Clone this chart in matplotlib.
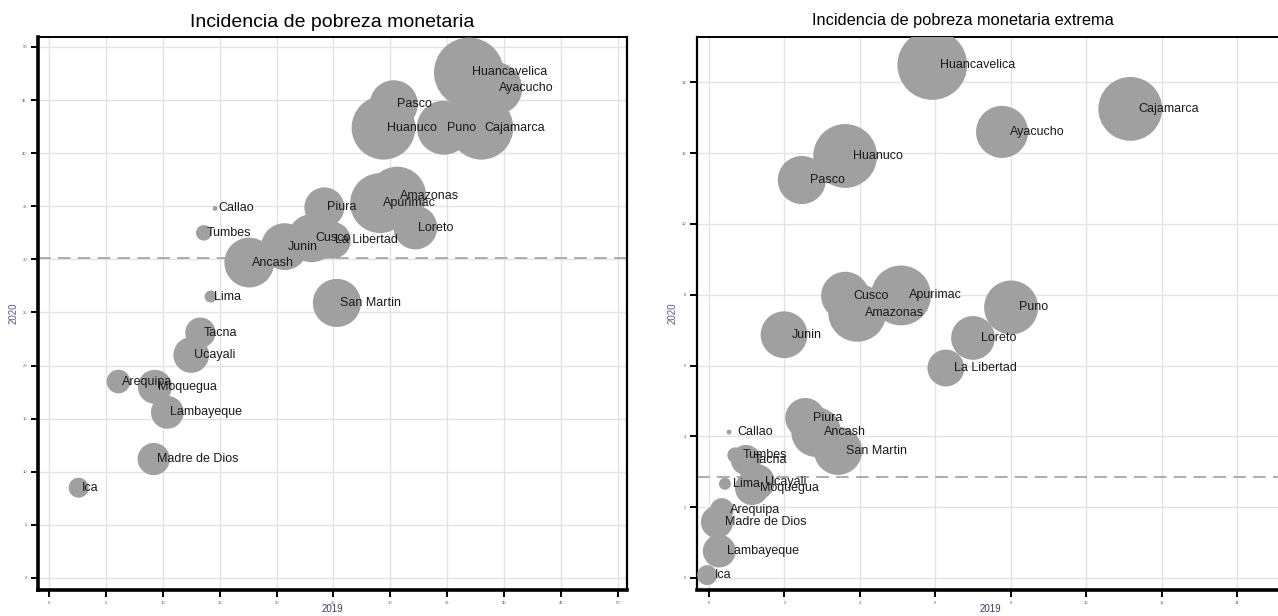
import numpy as np
import matplotlib.pyplot as plt

plt.rcParams['font.family'] = ['Liberation Sans', 'DejaVu Sans']

#-------------------------------------------------------------------------------
# regiones y tasas (2019 en x, 2020 en y)

regiones = ["Huancavelica", "Ayacucho", "Pasco", "Huanuco", "Puno", "Cajamarca",
            "Amazonas", "Apurimac", "Piura", "Loreto", "La Libertad", "Cusco",
            "Junin", "Ancash", "San Martin", "Lima", "Callao", "Tumbes", "Tacna",
            "Ucayali", "Arequipa", "Moquegua", "Lambayeque", "Madre de Dios", "Ica"]

pobreza_2019 = [36.9, 39.3, 30.3, 29.4, 34.7, 38.0,
                30.6, 29.1, 24.2, 32.2, 24.9, 23.1,
                20.7, 17.6, 25.3, 14.2, 14.6, 13.6, 13.3,
                12.5, 6.1, 9.3, 10.4, 9.2, 2.6]
pobreza_2020 = [47.6, 46.1, 44.6, 42.4, 42.4, 42.4,
                36.0, 35.3, 34.9, 33.0, 31.8, 32.0,
                31.2, 29.7, 25.9, 26.5, 34.8, 32.5, 23.1,
                21.0, 18.5, 18.0, 15.6, 11.2, 8.5]

extrema_2019 = [5.92, 7.77, 2.46, 3.61, 8.01, 11.17,
                3.93, 5.09, 2.55, 7.00, 6.28, 3.61,
                1.99, 2.84, 3.42, 0.42, 0.53, 0.69, 0.98,
                1.27, 0.34, 1.14, 0.27, 0.21, -0.05]
extrema_2020 = [14.49, 12.60, 11.24, 11.92, 7.64, 13.25,
                7.49, 7.98, 4.52, 6.78, 5.93, 7.97,
                6.87, 4.12, 3.59, 2.66, 4.12, 3.47, 3.33,
                2.71, 1.92, 2.54, 0.76, 1.58, 0.08]

# peso relativo de cada burbuja
peso = [12.2, 6.8, 5.8, 10.2, 7.3, 10.2,
        8.4, 9.0, 4.0, 4.8, 3.4, 5.8,
        5.5, 6.2, 5.8, 0.36, 0.06, 0.6, 2.3,
        3.2, 1.4, 2.9, 2.7, 2.6, 1.0]

promedio_pobreza = 30.1
promedio_extrema = 2.85

#-------------------------------------------------------------------------------

W, H = 1278, 616
fig = plt.figure(figsize=(W / 100, H / 100), dpi=100)

def px_box(x0, y0, x1, y1):
    return [x0 / W, 1 - y1 / H, (x1 - x0) / W, (y1 - y0) / H]

def burbujas(ax, xs, ys, xlim, ylim, ticks, hline, dx):
    s = np.array(peso) * 207.0
    ax.scatter(xs, ys, s=s, color="#a0a0a0", edgecolors="none", zorder=3)
    for name, x, y in zip(regiones, xs, ys):
        ax.annotate(name, (x, y), xytext=(dx, 0), textcoords="offset points",
                    ha="left", va="center", fontsize=9, color="#1a1a1a", zorder=4)
    ax.axhline(hline, color="#a6a6a6", lw=1.3, ls=(0, (7, 4)), zorder=2)
    ax.set_xlim(*xlim)
    ax.set_ylim(*ylim)
    ax.set_xticks(ticks)
    ax.set_yticks(ticks)
    ax.grid(True, color="#e3e3e3", lw=1.0, zorder=0)
    ax.set_axisbelow(True)
    ax.tick_params(length=5, width=1.4, color="black", labelsize=3,
                   labelcolor="#5a5a7a", pad=3)
    ax.set_xlabel("2019", fontsize=7, color="#3c3c64", labelpad=0)
    ax.set_ylabel("2020", fontsize=7, color="#5a5a8a", labelpad=1)
    ax.xaxis.set_label_coords(0.5, -0.025)

ax1 = fig.add_axes(px_box(38, 37, 627, 590))
burbujas(ax1, pobreza_2019, pobreza_2020, (-0.97, 50.8), (-1.13, 50.94),
         np.arange(0, 51, 5), promedio_pobreza, 2.2)
ax1.spines["left"].set_linewidth(2.6)
ax1.spines["bottom"].set_linewidth(2.6)
ax1.spines["top"].set_linewidth(1.4)
ax1.spines["right"].set_linewidth(1.6)
ax1.yaxis.set_label_coords(-0.033, 0.5)
ax1.set_title("Incidencia de pobreza monetaria", fontsize=14, pad=7.5)

ax2 = fig.add_axes(px_box(697, 37, 1286, 590))
burbujas(ax2, extrema_2019, extrema_2020, (-0.32, 15.3), (-0.34, 15.28),
         np.arange(0, 15, 2), promedio_extrema, 5.8)
ax2.spines["left"].set_linewidth(1.6)
ax2.spines["bottom"].set_linewidth(2.6)
ax2.spines["top"].set_linewidth(1.4)
ax2.yaxis.set_label_coords(-0.033, 0.5)
ax2.xaxis.set_label_coords((990 - 697) / 589, -0.025)
ax2.set_title("Incidencia de pobreza monetaria extrema", fontsize=11.8, pad=8.5,
              x=(963 - 697) / 589)

fig.savefig("out.png", dpi=100)
